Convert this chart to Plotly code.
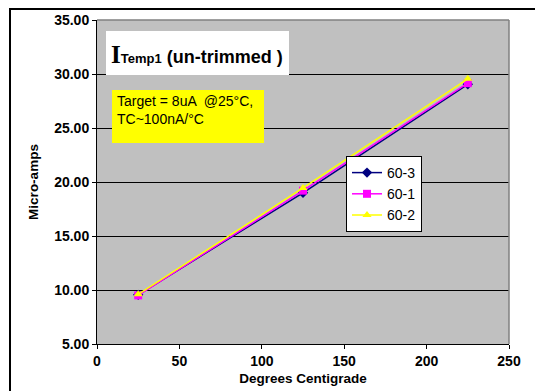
import plotly.graph_objects as go

temps = [25, 125, 225]
s603 = [9.55, 19.0, 29.05]
s601 = [9.5, 19.2, 29.15]
s602 = [9.6, 19.45, 29.55]
series_names = ["60-3", "60-1", "60-2"]
x_ticks = [0, 50, 100, 150, 200, 250]
y_ticks = [5, 10, 15, 20, 25, 30, 35]

# page body adds an 8px offset; work in reference pixel coords minus 8
OFF = 8
W, H = 543 - OFF, 391 - OFF
L, R, T, B = 97 - OFF, 509 - OFF, 20 - OFF, 344 - OFF

def px(x):
    return (x - OFF - L) / (R - L)

def py(y):
    return (B - (y - OFF)) / (B - T)

fig = go.Figure()
styles = [
    dict(color="#000080", symbol="diamond"),
    dict(color="#FF00FF", symbol="square"),
    dict(color="#FFFF00", symbol="triangle-up"),
]
for name, vals, st in zip(series_names, [s603, s601, s602], styles):
    fig.add_trace(go.Scatter(
        x=temps, y=vals, name=name, mode="lines+markers",
        line=dict(color=st["color"], width=1.5),
        marker=dict(color=st["color"], symbol=st["symbol"], size=8),
    ))

font = "Arial, Liberation Sans, sans-serif"

fig.update_layout(
    width=W, height=H,
    margin=dict(l=L, r=W - R, t=T, b=H - B, pad=0, autoexpand=False),
    paper_bgcolor="white",
    plot_bgcolor="#C0C0C0",
    font=dict(family=font, color="black"),
    showlegend=True,
    legend=dict(
        x=px(346), y=py(156), xanchor="left", yanchor="top",
        bgcolor="white", bordercolor="black", borderwidth=1,
        font=dict(size=14, family=font, color="black"),
        itemwidth=30, tracegroupgap=0,
    ),
    xaxis=dict(
        range=[0, 250], tickvals=x_ticks, ticktext=[str(v) for v in x_ticks],
        showgrid=False, zeroline=False, automargin=False,
        showline=True, linecolor="black", linewidth=1,
        ticks="outside", ticklen=4, tickcolor="black",
        tickfont=dict(size=14, family=font, color="black", weight="bold"),
        title=dict(text="<b>Degrees Centigrade</b>", font=dict(size=13.5, family=font), standoff=5),
    ),
    yaxis=dict(
        range=[5, 35], tickvals=y_ticks, tickformat=".2f",
        showgrid=True, gridcolor="black", gridwidth=1, zeroline=False, automargin=False,
        showline=True, linecolor="black", linewidth=1,
        ticks="outside", ticklen=4, tickcolor="black",
        tickfont=dict(size=14, family=font, color="black", weight="bold"),
        title=dict(text="<b>Micro-amps</b>", font=dict(size=13.5, family=font), standoff=12),
    ),
    shapes=[
        dict(type="line", xref="paper", yref="paper", x0=0, x1=1, y0=1, y1=1,
             line=dict(color="#808080", width=1.5), layer="above"),
        dict(type="line", xref="paper", yref="paper", x0=1, x1=1, y0=0, y1=1,
             line=dict(color="#808080", width=1.5), layer="above"),
        dict(type="rect", xref="paper", yref="paper",
             x0=px(10), x1=px(536), y0=py(400), y1=py(9),
             line=dict(color="black", width=2), layer="above"),
        dict(type="rect", xref="paper", yref="paper",
             x0=px(106), x1=px(289), y0=py(75), y1=py(31),
             fillcolor="white", line=dict(width=0), layer="above"),
        dict(type="rect", xref="paper", yref="paper",
             x0=px(112), x1=px(264), y0=py(143), y1=py(90),
             fillcolor="#FFFF00", line=dict(width=0), layer="above"),
    ],
    annotations=[
        dict(xref="paper", yref="paper", x=px(109), y=py(54), xanchor="left", yanchor="middle",
             showarrow=False,
             text="<span style='font-family:Liberation Serif, Times New Roman, serif;font-size:25px'><b>I</b></span>"
                  "<span style='font-size:13px'><b>Temp1</b></span>"
                  "<span style='font-size:18px'><b> (un-trimmed )</b></span>",
             font=dict(family=font, size=18, color="black")),
        dict(xref="paper", yref="paper", x=px(115), y=py(110), xanchor="left", yanchor="middle",
             showarrow=False, align="left",
             text="Target = 8uA  @25°C,<br>TC~100nA/°C",
             font=dict(family=font, size=14, color="black")),
    ],
)

fig.write_html("out.html")
